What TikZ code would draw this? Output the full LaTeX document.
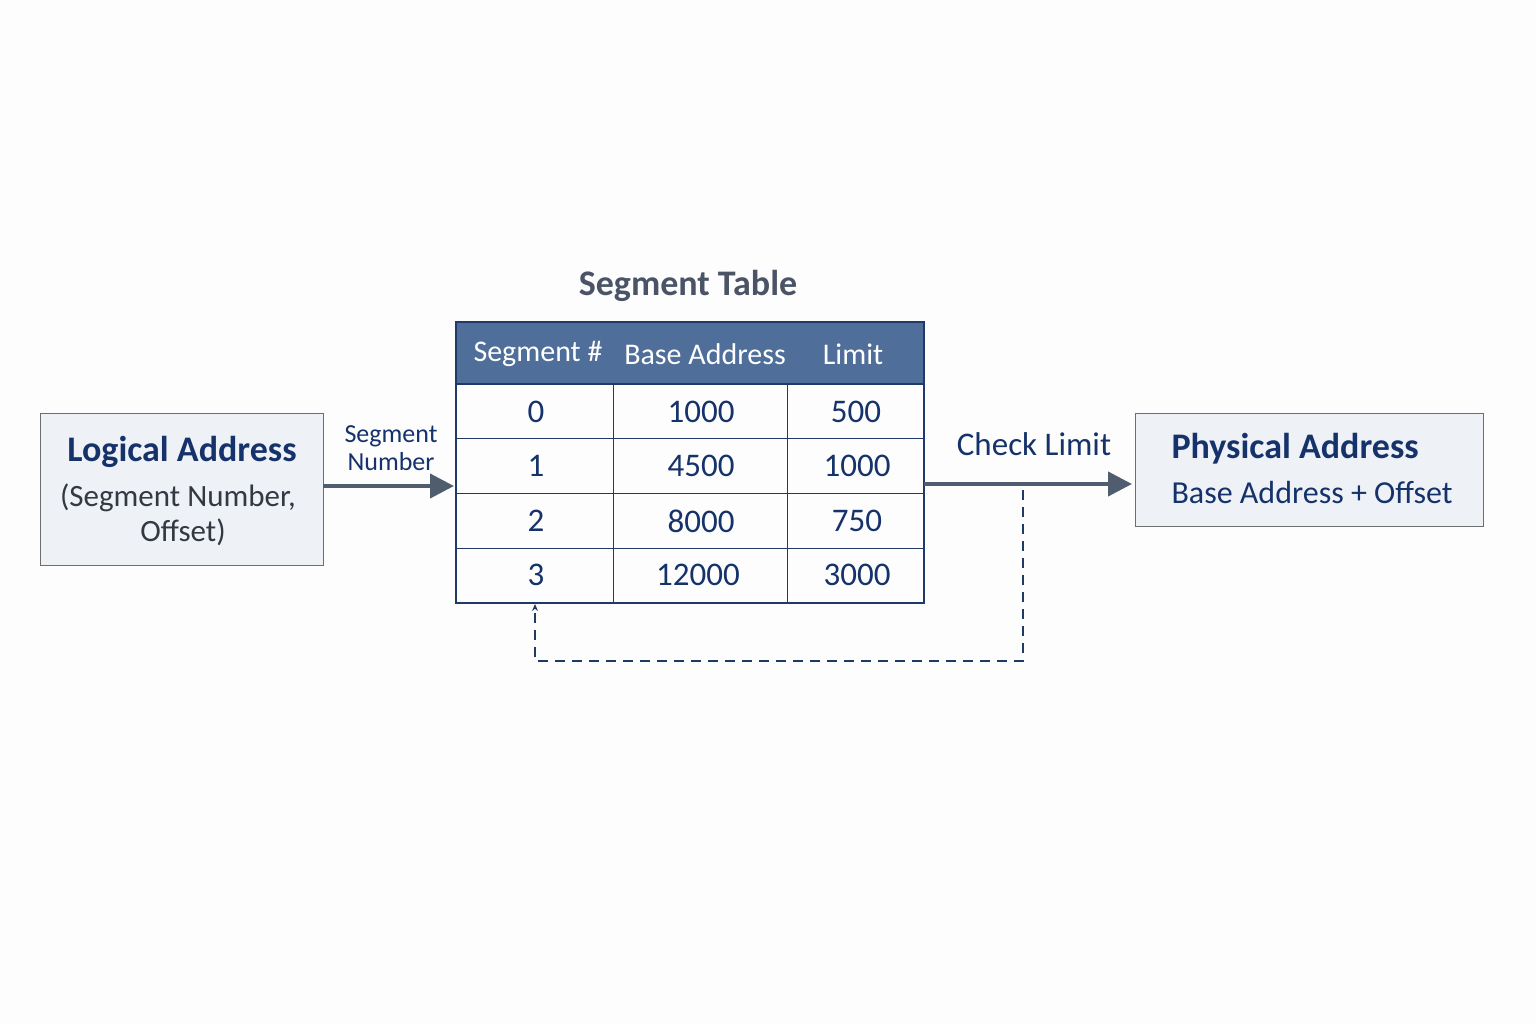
\documentclass[tikz,border=0pt]{standalone}
\usepackage{fontspec}
\setmainfont{Carlito}
\usetikzlibrary{arrows.meta}
\definecolor{navy}{HTML}{15326A}
\definecolor{tborder}{HTML}{1F3A66}
\definecolor{hdr}{HTML}{4F6E9A}
\definecolor{boxfill}{HTML}{EEF1F6}
\definecolor{boxline}{HTML}{6E6E6E}
\definecolor{arrowc}{HTML}{505D6E}
\definecolor{titlec}{HTML}{4A5466}
\definecolor{subc}{HTML}{333842}
\definecolor{bgc}{HTML}{FDFDFD}
\begin{document}
\begin{tikzpicture}[x=1pt,y=-1pt,
  addrbox/.style={draw=boxline,fill=boxfill,line width=1.3pt},
  bigarrow/.style={draw=arrowc,line width=4pt,-{Triangle[length=24pt,width=24pt]}},
  cell/.style={font=\fontsize{33}{33}\selectfont,text=navy,anchor=center},
  hcell/.style={font=\fontsize{30}{30}\selectfont,text=white,anchor=center},
  lbl/.style={text=navy,anchor=center}]
\useasboundingbox (0,0) rectangle (1536,1024);
\fill[bgc] (0,0) rectangle (1536,1024);
% Logical address box
\node[addrbox,minimum width=283pt,minimum height=152pt,anchor=north west] (la) at (40,413) {};
\node[lbl,font=\bfseries\fontsize{36}{36}\selectfont] (lat) at (182,452) {Logical Address};
\node[text=subc,font=\fontsize{31}{31}\selectfont,anchor=center] (las1) at (178,498) {(Segment Number,};
\node[text=subc,font=\fontsize{31}{31}\selectfont,anchor=center] (las2) at (183,532) {Offset)};
% Table
\node[fill=hdr,minimum width=468pt,minimum height=62pt,anchor=north west,inner sep=0] (hd) at (456,322) {};
\coordinate (tnw) at (456,322);
\coordinate (tse) at (924,603);
\draw[tborder,line width=1pt] (456,438) -- (924,438) (456,493) -- (924,493) (456,548) -- (924,548);
\draw[tborder,line width=1pt] (613,384) -- (613,603) (787,384) -- (787,603);
\draw[tborder,line width=2pt] (456,384) -- (924,384);
\draw[tborder,line width=2pt] (tnw) rectangle (tse);
\node[text=titlec,font=\bfseries\fontsize{36}{36}\selectfont] (tt) at (688,286) {Segment Table};
\node[hcell] (h1) at (538,354) {Segment \#};
\node[hcell] (h2) at (705,354) {Base Address};
\node[hcell] (h3) at (853,354) {Limit};
\node[cell] (r0a) at (536,412) {0};
\node[cell] (r0b) at (701,412) {1000};
\node[cell] (r0c) at (856,412) {500};
\node[cell] (r1a) at (536,466) {1};
\node[cell] (r1b) at (701,466) {4500};
\node[cell] (r1c) at (857,466) {1000};
\node[cell] (r2a) at (536,521) {2};
\node[cell] (r2b) at (701,521) {8000};
\node[cell] (r2c) at (857,521) {750};
\node[cell] (r3a) at (536,575) {3};
\node[cell] (r3b) at (698,575) {12000};
\node[cell] (r3c) at (857,575) {3000};
% Physical address box
\node[addrbox,minimum width=348pt,minimum height=113pt,anchor=north west] (pa) at (1135,413) {};
\node[text=navy,font=\bfseries\fontsize{36}{36}\selectfont,anchor=west] (pat) at (1168,449) {Physical Address};
\node[text=navy,font=\fontsize{32}{32}\selectfont,anchor=west] (pas) at (1168,493) {Base Address + Offset};
% Arrows
\coordinate (a1s) at (323,486);
\coordinate (a1e) at (454,486);
\draw[bigarrow] (a1s) -- (a1e);
\node[lbl,font=\fontsize{26}{26}\selectfont] (sn1) at (391,436) {Segment};
\node[lbl,font=\fontsize{26}{26}\selectfont] (sn2) at (391,462) {Number};
\coordinate (a2s) at (924,484);
\coordinate (a2e) at (1132,484);
\draw[bigarrow] (a2s) -- (a2e);
\node[lbl,font=\fontsize{33}{33}\selectfont] (cl) at (1034,444) {Check Limit};
% Dashed feedback
\coordinate (d0) at (1023,490);
\coordinate (d1) at (535,604);
\draw[tborder,line width=2pt,dashed,dash pattern=on 10pt off 7pt,-{Stealth[length=7pt,width=6pt]}] (d0) -- (1023,661) -- (535,661) -- (d1);
\end{tikzpicture}
\end{document}
